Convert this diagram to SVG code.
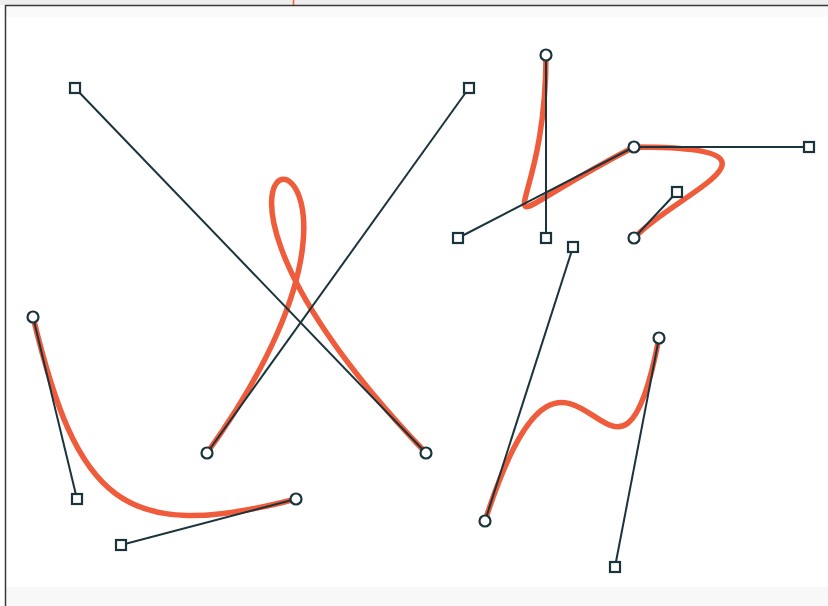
<svg xmlns="http://www.w3.org/2000/svg" width="828" height="606" viewBox="0 0 828 606">
<style>
.curve{fill:none;stroke:#ef5b3b;stroke-width:5.5;stroke-linecap:round;stroke-linejoin:round}
.handle{fill:none;stroke:#1b343c;stroke-width:2}
.pt{fill:#ffffff;stroke:#1b343c;stroke-width:2.2}
</style>
<defs>
<filter id="soft" x="-5%" y="-5%" width="110%" height="110%"><feGaussianBlur stdDeviation="0.6"/></filter>
<rect id="sq" x="-5" y="-5" width="10" height="10" class="pt"/>
<circle id="ci" r="5.5" class="pt"/>
</defs>
<rect x="0" y="0" width="828" height="606" fill="#ffffff"/>
<rect x="0" y="0" width="828" height="5" fill="#eeeeee"/>
<rect x="6" y="6" width="822" height="11" fill="#fafafa"/>
<rect x="6" y="587" width="822" height="19" fill="#f8f8f8"/>
<line x1="293.5" y1="0" x2="293.5" y2="5" stroke="#ee6a3e" stroke-width="1.6"/>
<line x1="5" y1="5.5" x2="828" y2="5.5" stroke="#3a3a3a" stroke-width="1.5"/>
<line x1="5.5" y1="5" x2="5.5" y2="606" stroke="#3a3a3a" stroke-width="1.5"/>

<g id="curves" filter="url(#soft)">
<path id="curve-loop" class="curve" d="M207,453 C469,88 76,88 426,453"/>
<path id="curve-bottom-left" class="curve" d="M33,317 C77,499 121,545 296,499"/>
<path id="curve-top-right" class="curve" d="M546,55 C546,238 459,238 634,147 C809,147 677,192 634,238"/>
<path id="curve-wave" class="curve" d="M485,521 C573,247 615,567 659,338"/>
</g>

<g id="connectors">
<line class="handle" x1="207" y1="453" x2="469" y2="88"/>
<line class="handle" x1="426" y1="453" x2="75" y2="88"/>
<line class="handle" x1="33" y1="317" x2="77" y2="499"/>
<line class="handle" x1="121" y1="545" x2="296" y2="499"/>
<line class="handle" x1="546" y1="55" x2="546" y2="238"/>
<line class="handle" x1="458" y1="238" x2="634" y2="147"/>
<line class="handle" x1="634" y1="147" x2="809" y2="147"/>
<line class="handle" x1="677" y1="192" x2="634" y2="238"/>
<line class="handle" x1="485" y1="521" x2="573" y2="247"/>
<line class="handle" x1="615" y1="567" x2="659" y2="338"/>
</g>

<g id="loop-start"><use href="#ci" x="207" y="453"/></g>
<g id="loop-end"><use href="#ci" x="426" y="453"/></g>
<g id="loop-ctrl1"><use href="#sq" x="469" y="88"/></g>
<g id="loop-ctrl2"><use href="#sq" x="75" y="88"/></g>

<g id="bl-start"><use href="#ci" x="33" y="317"/></g>
<g id="bl-ctrl1"><use href="#sq" x="77" y="499"/></g>
<g id="bl-ctrl2"><use href="#sq" x="121" y="545"/></g>
<g id="bl-end"><use href="#ci" x="296" y="499"/></g>

<g id="tr-start"><use href="#ci" x="546" y="55"/></g>
<g id="tr-ctrl1"><use href="#sq" x="546" y="238"/></g>
<g id="tr-ctrl2"><use href="#sq" x="458" y="238"/></g>
<g id="tr-mid"><use href="#ci" x="634" y="147"/></g>
<g id="tr-ctrl3"><use href="#sq" x="809" y="147"/></g>
<g id="tr-ctrl4"><use href="#sq" x="677" y="192"/></g>
<g id="tr-end"><use href="#ci" x="634" y="238"/></g>

<g id="wave-start"><use href="#ci" x="485" y="521"/></g>
<g id="wave-ctrl1"><use href="#sq" x="573" y="247"/></g>
<g id="wave-ctrl2"><use href="#sq" x="615" y="567"/></g>
<g id="wave-end"><use href="#ci" x="659" y="338"/></g>
</svg>
